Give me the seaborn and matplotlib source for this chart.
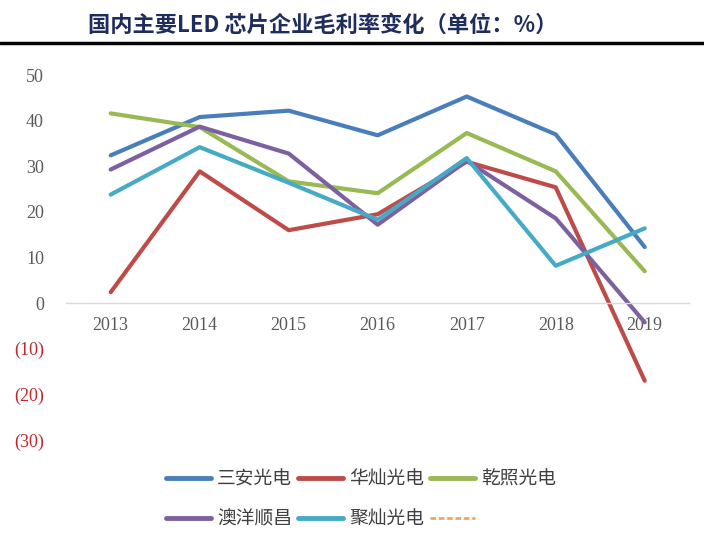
import pandas as pd
import seaborn as sns
import matplotlib.pyplot as plt
from matplotlib.lines import Line2D

# chart data
years = ['2013', '2014', '2015', '2016', '2017', '2018', '2019']
companies = ['三安光电', '华灿光电', '乾照光电', '澳洋顺昌', '聚灿光电']
sanan = [32.4, 40.8, 42.2, 36.8, 45.3, 37.0, 12.3]
huacan = [2.4, 28.9, 16.0, 19.5, 31.0, 25.4, -17.0]
qianzhao = [41.6, 38.6, 26.7, 24.1, 37.3, 28.9, 7.0]
aoyang = [29.3, 38.7, 32.8, 17.2, 31.2, 18.6, -4.2]
jucan = [23.8, 34.2, 26.4, 18.3, 31.8, 8.2, 16.4]
yticks = [50, 40, 30, 20, 10, 0, -10, -20, -30]
colors = ['#4A7EBB', '#BE4B48', '#98B954', '#7D60A0', '#46AAC5']

df = pd.DataFrame({'year': years * 5,
                   'company': [c for c in companies for _ in years],
                   'margin': sanan + huacan + qianzhao + aoyang + jucan})
df['x'] = df['year'].map({y: i for i, y in enumerate(years)})

sns.set_theme(style='white')
plt.rcParams['font.family'] = ['Liberation Serif', 'Noto Sans CJK SC']

fig = plt.figure(figsize=(7.04, 5.48), dpi=100)
ax = fig.add_axes([0.094, 0.197, 0.885, 0.666])

sns.lineplot(data=df, x='x', y='margin', hue='company', hue_order=companies,
             palette=colors, linewidth=3, sort=False, legend=False, ax=ax)

# spine first: moving it resets the ticks
for s in ['top', 'right', 'left']:
    ax.spines[s].set_visible(False)
ax.spines['bottom'].set_position(('data', 0))
ax.spines['bottom'].set_color('#D9D9D9')
ax.spines['bottom'].set_linewidth(1)

ax.set_xlim(-0.5, 6.5)
ax.set_ylim(-30, 50)
ax.set_xticks(range(len(years)))
ax.set_xticklabels(years, fontsize=13, color='#595959')
ax.set_yticks(yticks)
ax.set_yticklabels([str(v) if v >= 0 else f'({-v})' for v in yticks], fontsize=13)
for lab, v in zip(ax.get_yticklabels(), yticks):
    lab.set_color('#595959' if v >= 0 else '#C0282D')
ax.set_xlabel('')
ax.set_ylabel('')
ax.tick_params(axis='both', length=0)
ax.tick_params(axis='y', pad=16)
ax.tick_params(axis='x', pad=10)

# title and rule
fig.text(0.125, 0.953, '国内主要LED 芯片企业毛利率变化（单位：%）', fontsize=16,
         fontweight='bold', color='#1F2D5C', ha='left', va='center',
         family=['Noto Sans CJK SC'])
fig.add_artist(Line2D([0, 1], [0.921, 0.921], color='black', lw=2.5))

# legend, row-major order via column-major arrangement
handles = [Line2D([], [], color=c, lw=3.5) for c in colors]
handles.append(Line2D([], [], color='#F4A460', lw=2, ls=(0, (2, 1))))
labels = companies + ['']
order = [0, 3, 1, 4, 2, 5]
leg = fig.legend([handles[i] for i in order], [labels[i] for i in order],
                 loc='center', bbox_to_anchor=(0.513, 0.089), ncol=3, frameon=False,
                 handlelength=2.4, handletextpad=0.32, columnspacing=0.32,
                 labelspacing=1.0, prop={'family': 'Noto Sans CJK SC', 'size': 13.5})
for t in leg.get_texts():
    t.set_color('#404040')

fig.savefig('out.png', dpi=100)
